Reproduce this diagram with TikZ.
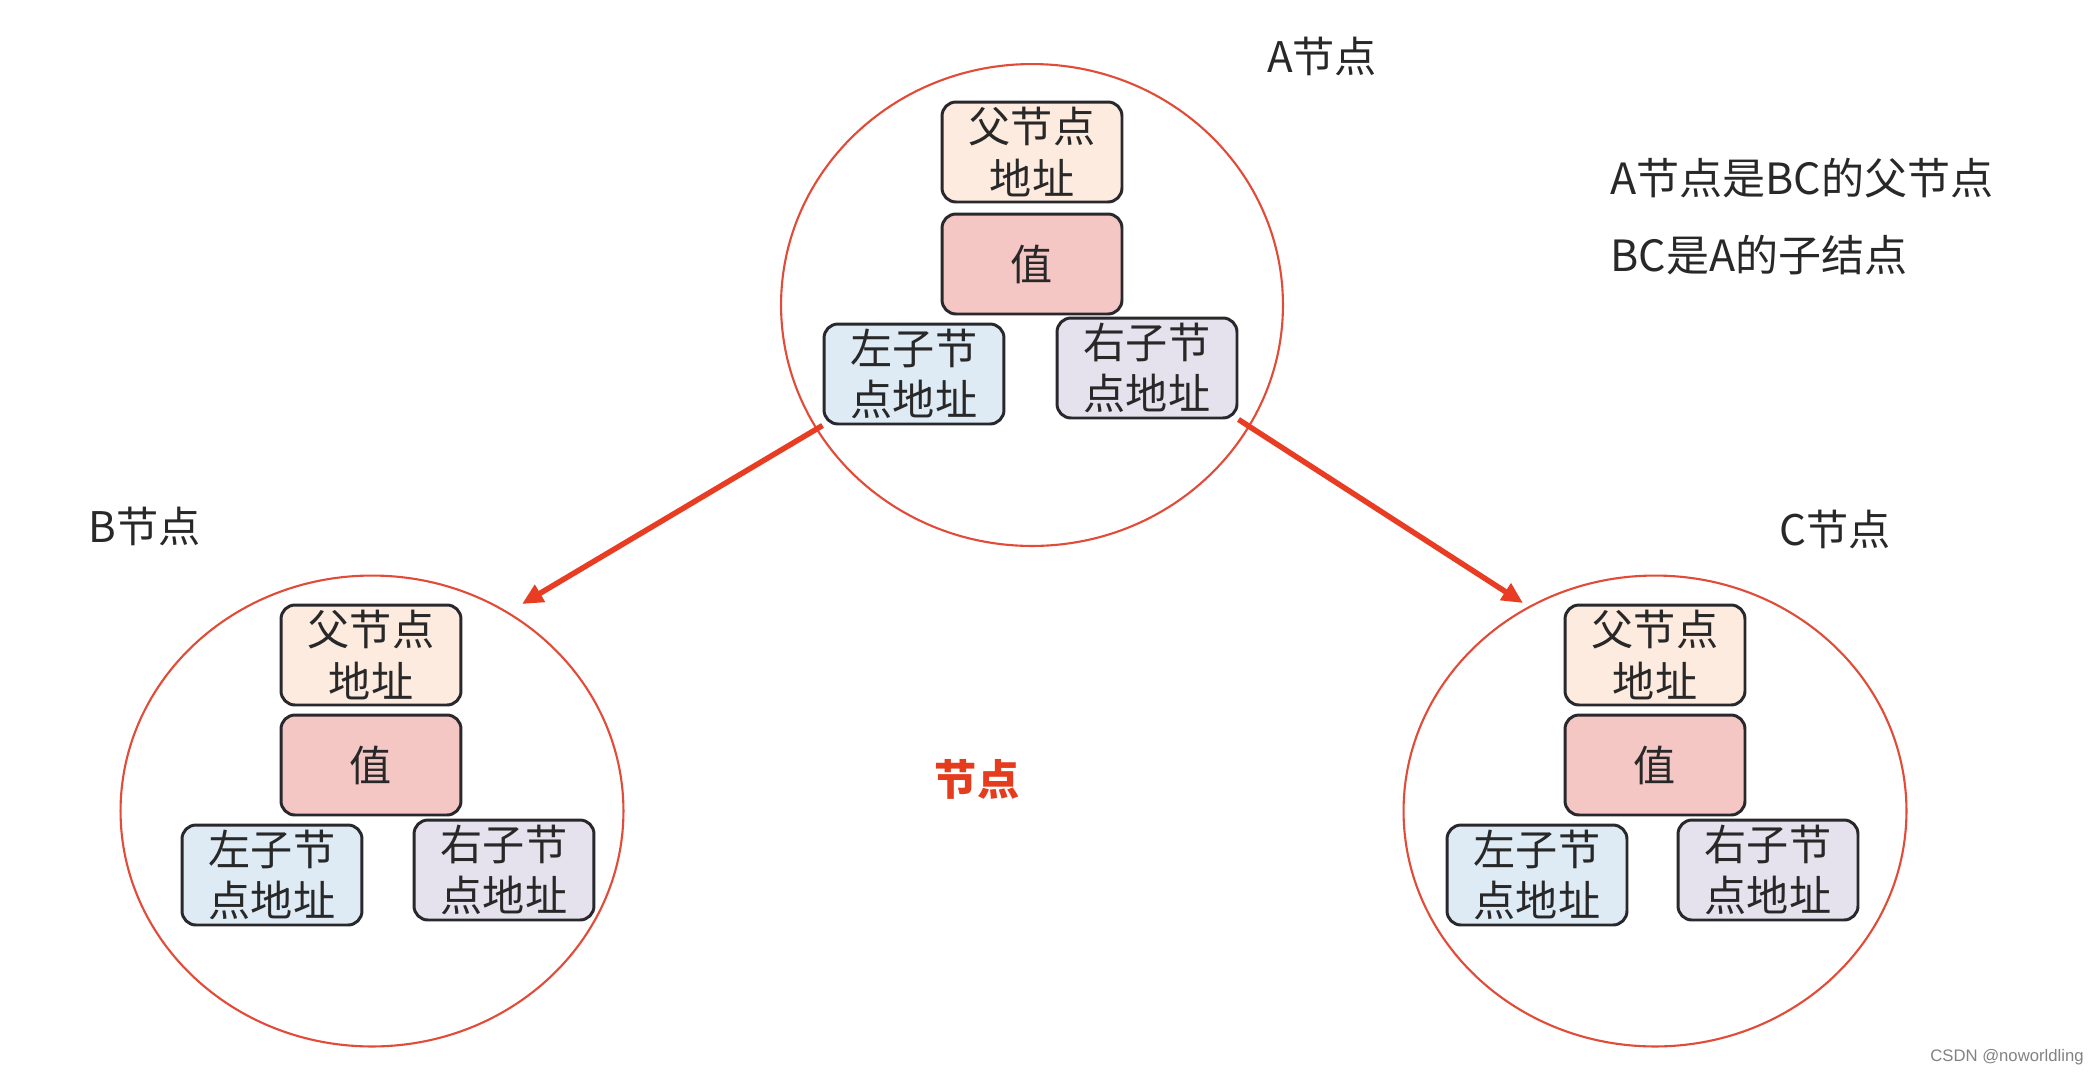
\documentclass[tikz,border=0pt]{standalone}
\usepackage{fontspec}
\setmainfont{Noto Sans CJK SC}
\newfontfamily\wmfont{Liberation Sans}
\usetikzlibrary{shapes.geometric,arrows.meta}
\definecolor{txt}{RGB}{40,40,40}
\definecolor{fuF}{RGB}{252,235,222}
\definecolor{valF}{RGB}{244,199,197}
\definecolor{leftF}{RGB}{222,235,245}
\definecolor{rightF}{RGB}{229,226,237}
\definecolor{boxD}{RGB}{40,40,45}
\definecolor{circD}{RGB}{225,75,55}
\definecolor{arrD}{RGB}{232,60,35}
\definecolor{redT}{RGB}{230,60,30}
\definecolor{wmC}{RGB}{130,130,130}
\tikzset{
  ring/.style={ellipse, draw=circD, line width=1.2pt, inner sep=0pt},
  fieldbox/.style={draw=boxD, line width=1.7pt, rounded corners=0.28cm,
    minimum width=3.6cm, minimum height=2cm, inner sep=0pt, align=center,
    text=txt, font=\fontsize{24}{29.5}\selectfont},
  lbl/.style={text=txt, inner sep=0pt, font=\fontsize{24}{29.5}\selectfont},
  arrowline/.style={draw=arrD, line width=3.1pt, -{Triangle[length=0.42cm,width=0.38cm]}}
}
\begin{document}
\begin{tikzpicture}[x=0.02cm,y=-0.02cm]
\useasboundingbox[fill=white] (0,0) rectangle (2100,1076);

% circles
\node[ring, minimum width=10.04cm, minimum height=9.64cm] (cA) at (1032,305) {};
\node[ring, minimum width=10.06cm, minimum height=9.42cm] (cB) at (372,811) {};
\node[ring, minimum width=10.06cm, minimum height=9.42cm] (cC) at (1655,811) {};

% node A
\node[fieldbox, fill=fuF] (pA) at (1032,152) {父节点\\地址};
\node[fieldbox, fill=valF] (vA) at (1032,264) {值};
\node[fieldbox, fill=leftF] (lA) at (914,374) {左子节\\点地址};
\node[fieldbox, fill=rightF] (rA) at (1147,368) {右子节\\点地址};

% node B
\node[fieldbox, fill=fuF] (pB) at (371,655) {父节点\\地址};
\node[fieldbox, fill=valF] (vB) at (371,765) {值};
\node[fieldbox, fill=leftF] (lB) at (272,875) {左子节\\点地址};
\node[fieldbox, fill=rightF] (rB) at (504,870) {右子节\\点地址};

% node C
\node[fieldbox, fill=fuF] (pC) at (1655,655) {父节点\\地址};
\node[fieldbox, fill=valF] (vC) at (1655,765) {值};
\node[fieldbox, fill=leftF] (lC) at (1537,875) {左子节\\点地址};
\node[fieldbox, fill=rightF] (rC) at (1768,870) {右子节\\点地址};

% labels
\node[lbl] (tA) at (1322,56) {A节点};
\node[lbl] (tB) at (145,526) {B节点};
\node[lbl] (tC) at (1835,529) {C节点};
\node[lbl, anchor=west, font=\fontsize{24.5}{29.5}\selectfont] (n1) at (1610,178) {A节点是BC的父节点};
\node[lbl, anchor=west, font=\fontsize{24.5}{29.5}\selectfont] (n2) at (1610,255) {BC是A的子结点};
\node[inner sep=0pt, text=redT, font=\fontsize{24}{29.5}\selectfont\bfseries] (mid) at (977,779) {节点};
\node[inner sep=0pt, text=wmC, anchor=east, font=\wmfont\fontsize{9.5}{11}\selectfont] (wm) at (2084,1057) {CSDN @noworldling};

% arrows
\coordinate (tipB) at (522,604);
\coordinate (tipC) at (1523,603);
\draw[arrowline] (lA.south west) -- (tipB);
\draw[arrowline] (rA.south east) -- (tipC);
\end{tikzpicture}
\end{document}
